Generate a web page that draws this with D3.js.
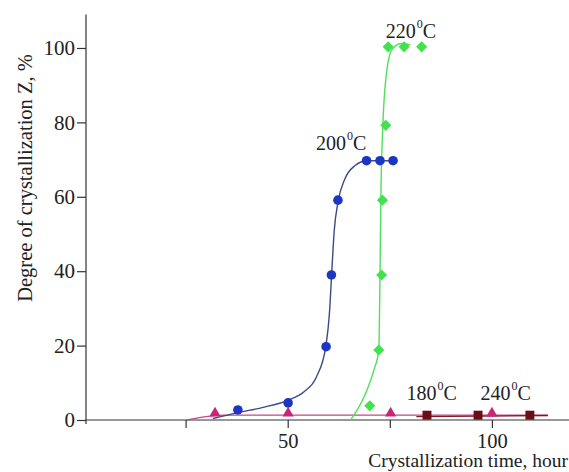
<!doctype html>
<html lang="en">

<head>
    <title>Degree of crystallization</title>
    <meta charset="utf-8">
    <style>
        body { margin: 0; background: #fff; }
        text { font-family: "Liberation Serif", "Times New Roman", serif; fill: #222; }
    </style>
</head>

<body>
    <div id="chart"></div>

    <script src="https://cdnjs.cloudflare.com/ajax/libs/d3/7.8.5/d3.min.js"></script>

    <script>
        // measured points (time in hours, Z in %)
        const t200 = [37.8, 50.1, 59.4, 60.7, 62.3, 69.3, 72.6, 75.8];
        const z200 = [2.7, 4.6, 19.7, 39, 59.1, 69.7, 69.7, 69.7];
        const t220 = [70.1, 72.3, 73.0, 73.2, 74.0, 74.6, 78.5, 82.8];
        const z220 = [3.8, 18.8, 39, 59.1, 79.2, 100.3, 100.3, 100.3];
        const t180 = [32.2, 50.1, 75.2, 100];
        const z180 = [1.8, 1.8, 1.8, 1.8];
        const t240 = [84.1, 96.6, 109.3];
        const z240 = [1.3, 1.3, 1.3];

        // fitted curves
        const fit200 = [[31.7, 0.4], [37.8, 2.0], [44, 3.4], [50, 5.3], [54, 7.6], [57, 11.5], [59.3, 19.6],
            [60.3, 30], [60.8, 40], [61.4, 51], [62.3, 58.5], [64, 64.8], [66.5, 68.4], [69.3, 69.7], [75.8, 69.7]];
        const fit220 = [[65.4, 0], [68.9, 6.7], [71.1, 13.4], [72.3, 18.8], [72.6, 39], [72.8, 59],
            [73.3, 79.3], [74, 91.4], [75.5, 99.5], [77.7, 101.2], [80, 100.8]];
        const fit180 = [[25.3, 0], [30, 0.9], [35, 1.3], [113.7, 1.3]];
        const fit240 = [[81.5, 0.9], [113.7, 1.2]];

        const xTicks = [25, 50, 75, 100];
        const xTickLabels = { 50: "50", 100: "100" };
        const yTicks = [0, 20, 40, 60, 80, 100];

        const width = 569;
        const height = 472;

        const x = d3.scaleLinear().domain([0, 119]).range([83.5, 569.5]);
        const y = d3.scaleLinear().domain([0, 109]).range([420, 14.5]);

        const svg = d3.select("#chart").append("svg")
            .attr("width", width).attr("height", height);

        // axes
        svg.append("g")
            .attr("transform", `translate(0,${y(0)})`)
            .call(d3.axisBottom(x).tickValues(xTicks).tickSize(8).tickPadding(5)
                .tickFormat(d => xTickLabels[d] || ""))
            .call(g => g.select(".domain").attr("d", `M86,0H${width}`))
            .call(g => g.selectAll("line, path").attr("stroke", "#333").attr("stroke-width", 1.2))
            .call(g => g.selectAll("text").attr("font-size", 20.5).attr("fill", "#222")
                .style("font-family", "'Liberation Serif', serif"));

        svg.append("g")
            .attr("transform", "translate(86,0)")
            .call(d3.axisLeft(y).tickValues(yTicks).tickSize(9).tickPadding(2).tickSizeOuter(0))
            .call(g => g.select(".domain").attr("d", `M0,${y(0) + 4}V${y(109)}`))
            .call(g => g.selectAll("line, path").attr("stroke", "#333").attr("stroke-width", 1.2))
            .call(g => g.selectAll("text").attr("font-size", 21).attr("fill", "#222")
                .style("font-family", "'Liberation Serif', serif"));

        svg.append("text")
            .attr("x", 568).attr("y", 467)
            .attr("text-anchor", "end")
            .attr("font-size", 19.5)
            .text("Crystallization time, hour");

        svg.append("text")
            .attr("transform", "translate(32,178) rotate(-90)")
            .attr("text-anchor", "middle")
            .attr("font-size", 20.5)
            .text("Degree of crystallization Z, %");

        // curves
        const line = d3.line().x(d => x(d[0])).y(d => y(d[1])).curve(d3.curveMonotoneX);

        const curves = [
            { pts: fit180, color: "#c8448a" },
            { pts: fit240, color: "#7a1a22" },
            { pts: fit200, color: "#3c4a86" },
            { pts: fit220, color: "#4fe05c" }
        ];

        svg.selectAll("path.fit")
            .data(curves)
            .join("path")
            .attr("class", "fit")
            .attr("fill", "none")
            .attr("stroke", d => d.color)
            .attr("stroke-width", 1.4)
            .attr("d", d => line(d.pts));

        // markers
        const series = [
            { t: t180, z: z180, color: "#c9267a", symbol: d3.symbolTriangle, size: 55 },
            { t: t240, z: z240, color: "#6a0e16", symbol: d3.symbolSquare, size: 80 },
            { t: t200, z: z200, color: "#1c36c4", symbol: d3.symbolCircle, size: 72 },
            { t: t220, z: z220, color: "#3ee34e", symbol: d3.symbolDiamond2, size: 78 }
        ];

        series.forEach(s => {
            const sym = d3.symbol().type(s.symbol).size(s.size);
            svg.append("g")
                .selectAll("path")
                .data(s.t.map((t, i) => [t, s.z[i]]))
                .join("path")
                .attr("transform", d => `translate(${x(d[0])},${y(d[1])})`)
                .attr("d", sym)
                .attr("fill", s.color);
        });

        // temperature labels
        const labels = [
            { num: "200", t: 56.9, z: 72.6 },
            { num: "220", t: 74.0, z: 102.7 },
            { num: "180", t: 79.1, z: 5.4 },
            { num: "240", t: 97.2, z: 5.4 }
        ];

        labels.forEach(l => {
            const txt = svg.append("text")
                .attr("x", x(l.t)).attr("y", y(l.z))
                .attr("font-size", 20);
            txt.append("tspan").text(l.num);
            txt.append("tspan").attr("font-size", 12).attr("dy", -10).attr("dx", 1).text("0");
            txt.append("tspan").attr("dy", 10).text("C");
        });
    </script>
</body>

</html>
